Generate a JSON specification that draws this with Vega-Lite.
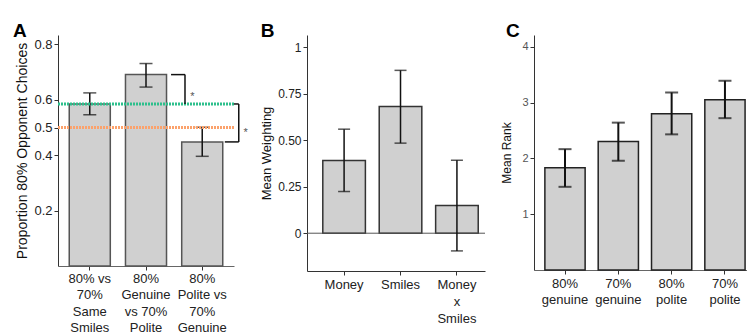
{
  "$schema": "https://vega.github.io/schema/vega-lite/v6.json",
  "background": "white",
  "padding": {"left": 12, "top": 22, "right": 0, "bottom": 0},
  "bounds": "full",
  "spacing": 12,
  "config": {
    "font": "Liberation Sans",
    "view": {"stroke": null},
    "axis": {
      "grid": false,
      "domainColor": "#333",
      "tickColor": "#333",
      "labelColor": "#222",
      "titleColor": "#111",
      "titleFontWeight": "normal",
      "tickSize": 4,
      "labelOverlap": false,
      "labelFlush": false,
      "labelFont": "Liberation Sans",
      "titleFont": "Liberation Sans"
    },
    "title": {
      "font": "Liberation Sans",
      "fontSize": 19,
      "fontWeight": "bold",
      "color": "#000",
      "anchor": "start",
      "baseline": "alphabetic",
      "offset": -6
    }
  },
  "hconcat": [
    {
      "width": 176,
      "height": 231,
      "title": {"text": "A", "dx": -3},
      "layer": [
        {
          "data": {"values": [
            {"cond": "80% vs\n70%\nSame\nSmiles", "mean": 0.585, "lo": 0.546, "hi": 0.625},
            {"cond": "80%\nGenuine\nvs 70%\nPolite", "mean": 0.691, "lo": 0.646, "hi": 0.731},
            {"cond": "80%\nPolite vs\n70%\nGenuine", "mean": 0.448, "lo": 0.396, "hi": 0.501}
          ]},
          "layer": [
            {
              "mark": {"type": "bar", "fill": "#d0d0d0", "stroke": "#555", "strokeWidth": 1.5},
              "encoding": {
                "x": {"field": "cond", "type": "nominal", "title": null,
                      "scale": {"domain": ["80% vs\n70%\nSame\nSmiles", "80%\nGenuine\nvs 70%\nPolite", "80%\nPolite vs\n70%\nGenuine"],
                                "paddingInner": 0.27, "paddingOuter": 0.2},
                      "axis": {"labelAngle": 0, "labelFontSize": 13, "labelLineHeight": 16.5,
                               "labelPadding": 2, "domainColor": "#666", "labelExpr": "split(datum.value, '\\n')"}},
                "y": {"field": "mean", "type": "quantitative", "title": "Proportion 80% Opponent Choices",
                      "scale": {"domain": [0, 0.834], "nice": false},
                      "axis": {"values": [0.2, 0.4, 0.5, 0.6, 0.8], "format": ".1f", "labelOverlap": false,
                               "labelFontSize": 13, "titleFontSize": 14, "titlePadding": 4}}
              }
            },
            {
              "mark": {"type": "errorbar", "ticks": {"size": 13}, "thickness": 1.5, "color": "#111"},
              "encoding": {
                "x": {"field": "cond", "type": "nominal", "title": null},
                "y": {"field": "lo", "type": "quantitative", "title": "Proportion 80% Opponent Choices"},
                "y2": {"field": "hi"}
              }
            }
          ]
        },
        {
          "data": {"values": [{"line": "same smiles", "mean": 0.585}]},
          "mark": {"type": "rule", "color": "#2dbf8c", "strokeWidth": 3, "strokeDash": [2, 1]},
          "encoding": {"y": {"field": "mean", "type": "quantitative", "title": "Proportion 80% Opponent Choices"}}
        },
        {
          "data": {"values": [{"line": "chance", "mean": 0.5}]},
          "mark": {"type": "rule", "color": "#fba26c", "strokeWidth": 3, "strokeDash": [2, 1]},
          "encoding": {"y": {"field": "mean", "type": "quantitative", "title": "Proportion 80% Opponent Choices"}}
        },
        {
          "data": {"values": [{"cond": "80%\nGenuine\nvs 70%\nPolite", "mean": 0.691}]},
          "mark": {"type": "rule", "color": "#111", "strokeWidth": 1.5},
          "encoding": {
            "x": {"field": "cond", "type": "nominal", "bandPosition": 1.11, "title": null},
            "x2": {"field": "cond", "bandPosition": 1.45},
            "y": {"field": "mean", "type": "quantitative", "title": "Proportion 80% Opponent Choices"}
          }
        },
        {
          "data": {"values": [{"cond": "80%\nGenuine\nvs 70%\nPolite", "mean": 0.691, "end": 0.585}]},
          "mark": {"type": "rule", "color": "#111", "strokeWidth": 1.5},
          "encoding": {
            "x": {"field": "cond", "type": "nominal", "bandPosition": 1.45, "title": null},
            "y": {"field": "mean", "type": "quantitative", "title": "Proportion 80% Opponent Choices"},
            "y2": {"field": "end"}
          }
        },
        {
          "data": {"values": [{"cond": "80%\nGenuine\nvs 70%\nPolite", "mean": 0.61, "sig": "*"}]},
          "mark": {"type": "text", "color": "#555", "fontSize": 11},
          "encoding": {
            "x": {"field": "cond", "type": "nominal", "bandPosition": 1.63, "title": null},
            "y": {"field": "mean", "type": "quantitative", "title": "Proportion 80% Opponent Choices"},
            "text": {"field": "sig"}
          }
        },
        {
          "data": {"values": [{"cond": "80%\nPolite vs\n70%\nGenuine", "mean": 0.585}]},
          "mark": {"type": "rule", "color": "#111", "strokeWidth": 1.5},
          "encoding": {
            "x": {"field": "cond", "type": "nominal", "bandPosition": 1.27, "title": null},
            "x2": {"field": "cond", "bandPosition": 1.39},
            "y": {"field": "mean", "type": "quantitative", "title": "Proportion 80% Opponent Choices"}
          }
        },
        {
          "data": {"values": [{"cond": "80%\nPolite vs\n70%\nGenuine", "mean": 0.585, "end": 0.448}]},
          "mark": {"type": "rule", "color": "#111", "strokeWidth": 1.5},
          "encoding": {
            "x": {"field": "cond", "type": "nominal", "bandPosition": 1.39, "title": null},
            "y": {"field": "mean", "type": "quantitative", "title": "Proportion 80% Opponent Choices"},
            "y2": {"field": "end"}
          }
        },
        {
          "data": {"values": [{"cond": "80%\nPolite vs\n70%\nGenuine", "mean": 0.448}]},
          "mark": {"type": "rule", "color": "#111", "strokeWidth": 1.5},
          "encoding": {
            "x": {"field": "cond", "type": "nominal", "bandPosition": 1.05, "title": null},
            "x2": {"field": "cond", "bandPosition": 1.39},
            "y": {"field": "mean", "type": "quantitative", "title": "Proportion 80% Opponent Choices"}
          }
        },
        {
          "data": {"values": [{"cond": "80%\nPolite vs\n70%\nGenuine", "mean": 0.48, "sig": "*"}]},
          "mark": {"type": "text", "color": "#555", "fontSize": 11},
          "encoding": {
            "x": {"field": "cond", "type": "nominal", "bandPosition": 1.56, "title": null},
            "y": {"field": "mean", "type": "quantitative", "title": "Proportion 80% Opponent Choices"},
            "text": {"field": "sig"}
          }
        }
      ]
    },
    {
      "bounds": "flush",
      "spacing": 49,
      "hconcat": [
        {
          "width": 178,
          "height": 236,
          "title": {"text": "B", "dx": 0},
          "data": {"values": [
            {"predictor": "Money", "mean": 0.391, "lo": 0.224, "hi": 0.559},
            {"predictor": "Smiles", "mean": 0.681, "lo": 0.484, "hi": 0.875},
            {"predictor": "Money\nx\nSmiles", "mean": 0.149, "lo": -0.095, "hi": 0.392}
          ]},
          "layer": [
            {
              "mark": {"type": "bar", "fill": "#d0d0d0", "stroke": "#333", "strokeWidth": 1.5},
              "encoding": {
                "x": {"field": "predictor", "type": "nominal", "title": null,
                      "scale": {"domain": ["Money", "Smiles", "Money\nx\nSmiles"],
                                "paddingInner": 0.245, "paddingOuter": 0.2, "align": 0.7},
                      "axis": {"labelAngle": 0, "labelFontSize": 13, "labelLineHeight": 17,
                               "labelPadding": 3, "labelExpr": "split(datum.value, '\\n')"}},
                "y": {"field": "mean", "type": "quantitative", "title": "Mean Weighting",
                      "scale": {"domain": [-0.203, 1.065], "nice": false, "zero": false},
                      "axis": {"values": [0, 0.25, 0.5, 0.75, 1],
                               "labelExpr": "datum.value == 0 ? '0' : datum.value == 1 ? '1' : format(datum.value, '.2f')",
                               "labelFontSize": 12, "titleFontSize": 13, "titlePadding": 4}}
              }
            },
            {
              "data": {"values": [{"ref": 0}]},
              "mark": {"type": "rule", "color": "#555", "strokeWidth": 1},
              "encoding": {"y": {"field": "ref", "type": "quantitative", "title": "Mean Weighting"}}
            },
            {
              "mark": {"type": "errorbar", "ticks": {"size": 12}, "thickness": 1.5, "color": "#111"},
              "encoding": {
                "x": {"field": "predictor", "type": "nominal", "title": null},
                "y": {"field": "lo", "type": "quantitative", "title": "Mean Weighting"},
                "y2": {"field": "hi"}
              }
            }
          ]
        },
        {
          "width": 213,
          "height": 235,
          "title": {"text": "C", "dx": 5},
          "data": {"values": [
            {"face": "80%\ngenuine", "mean": 1.83, "lo": 1.49, "hi": 2.165},
            {"face": "70%\ngenuine", "mean": 2.3, "lo": 1.957, "hi": 2.64},
            {"face": "80%\npolite", "mean": 2.8, "lo": 2.43, "hi": 3.18},
            {"face": "70%\npolite", "mean": 3.05, "lo": 2.72, "hi": 3.39}
          ]},
          "layer": [
            {
              "mark": {"type": "bar", "fill": "#d0d0d0", "stroke": "#222", "strokeWidth": 1.5},
              "encoding": {
                "x": {"field": "face", "type": "nominal", "title": null,
                      "scale": {"domain": ["80%\ngenuine", "70%\ngenuine", "80%\npolite", "70%\npolite"],
                                "paddingInner": 0.245, "paddingOuter": 0.12, "align": 0.85},
                      "axis": {"labelAngle": 0, "labelFontSize": 13, "labelLineHeight": 16,
                               "labelPadding": 3, "domainColor": "#666", "labelExpr": "split(datum.value, '\\n')"}},
                "y": {"field": "mean", "type": "quantitative", "title": "Mean Rank",
                      "scale": {"domain": [0, 4.21], "nice": false},
                      "axis": {"values": [1, 2, 3, 4], "format": "d", "labelColor": "#555",
                               "labelFontSize": 11, "titleFontSize": 12, "titlePadding": 8}}
              }
            },
            {
              "mark": {"type": "errorbar", "ticks": {"size": 13}, "thickness": 2, "color": "#111"},
              "encoding": {
                "x": {"field": "face", "type": "nominal", "title": null},
                "y": {"field": "lo", "type": "quantitative", "title": "Mean Rank"},
                "y2": {"field": "hi"}
              }
            }
          ]
        }
      ]
    }
  ]
}
